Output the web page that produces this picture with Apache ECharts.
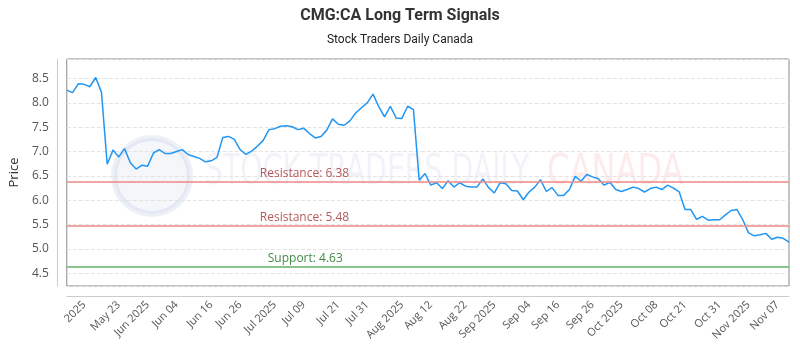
<!DOCTYPE html>
<html>
<head>
<meta charset="utf-8">
<script src="https://cdn.jsdelivr.net/npm/echarts@6.0.0/dist/echarts.min.js"></script>
<style>
  html, body { margin: 0; padding: 0; background: #fff; }
  #chart { width: 800px; height: 350px; }
</style>
</head>
<body>
<div id="chart"></div>
<script>
// daily closes (one per trading day)
const closes = [
  8.26, 8.21, 8.39, 8.38, 8.33, 8.52, 8.22, 6.74, 7.03, 6.89,
  7.06, 6.77, 6.64, 6.72, 6.70, 6.97, 7.04, 6.96, 6.96, 7.00,
  7.04, 6.94, 6.90, 6.86, 6.79, 6.81, 6.88, 7.29, 7.31, 7.25,
  7.04, 6.94, 7.01, 7.11, 7.23, 7.45, 7.47, 7.52, 7.53, 7.51,
  7.45, 7.48, 7.37, 7.28, 7.31, 7.44, 7.67, 7.56, 7.54, 7.63,
  7.79, 7.90, 8.00, 8.18, 7.92, 7.71, 7.93, 7.69, 7.68, 7.93,
  7.86, 6.41, 6.55, 6.31, 6.36, 6.24, 6.40, 6.27, 6.36, 6.29,
  6.27, 6.27, 6.44, 6.26, 6.15, 6.36, 6.34, 6.20, 6.19, 6.01,
  6.17, 6.27, 6.42, 6.18, 6.26, 6.10, 6.10, 6.22, 6.49, 6.39,
  6.53, 6.48, 6.44, 6.31, 6.37, 6.22, 6.18, 6.22, 6.27, 6.24,
  6.17, 6.24, 6.27, 6.22, 6.31, 6.25, 6.17, 5.81, 5.81, 5.61,
  5.67, 5.59, 5.60, 5.60, 5.70, 5.79, 5.81, 5.60, 5.33, 5.27,
  5.29, 5.32, 5.20, 5.24, 5.22, 5.14
];

// x-axis tick labels and the day index each one sits on
const tickLabels = [
  '2025', 'May 23', 'Jun 2025', 'Jun 04', 'Jun 16', 'Jun 26', 'Jul 2025', 'Jul 09',
  'Jul 21', 'Jul 31', 'Aug 2025', 'Aug 12', 'Aug 22', 'Sep 2025', 'Sep 04', 'Sep 16',
  'Sep 26', 'Oct 2025', 'Oct 08', 'Oct 21', 'Oct 31', 'Nov 2025', 'Nov 07'
];
const tickIndex = [
  3, 9, 14, 19, 25, 30, 36, 41, 47, 52, 58, 63, 69, 74, 80, 85, 91, 96, 102, 107, 113, 118, 123
];

const resistanceLevels = [6.38, 5.48];
const supportLevels = [4.63];

const categories = closes.map((_, i) => String(i));

const chart = echarts.init(document.getElementById('chart'));

const levelLines = [];
resistanceLevels.forEach(v => {
  levelLines.push({
    yAxis: v,
    lineStyle: { color: '#ef8f8f', width: 2, type: 'solid', opacity: 0.8 },
    label: {
      formatter: 'Resistance: ' + v.toFixed(2),
      color: '#a32f2f',
      distance: [193, 2]
    }
  });
});
supportLevels.forEach(v => {
  levelLines.push({
    yAxis: v,
    lineStyle: { color: '#7fbf7f', width: 2, type: 'solid', opacity: 0.9 },
    label: {
      formatter: 'Support: ' + v.toFixed(2),
      color: '#2e7d32',
      distance: [201, 2]
    }
  });
});

const wmFont = '42px "DejaVu Sans Condensed", sans-serif';

const option = {
  animation: false,
  backgroundColor: '#fff',
  title: {
    text: 'CMG:CA Long Term Signals',
    subtext: 'Stock Traders Daily Canada',
    left: 'center',
    top: 3,
    itemGap: 10,
    textStyle: { fontFamily: 'Roboto', fontSize: 16, fontWeight: 'bold', color: '#333' },
    subtextStyle: { fontFamily: 'Roboto', fontSize: 12, color: '#222' }
  },
  // faint watermark behind the plot
  graphic: [
    {
      type: 'circle',
      z: -1,
      shape: { cx: 152, cy: 176, r: 38 },
      style: { fill: 'rgba(150,170,210,0.10)', stroke: 'rgba(150,170,210,0.18)', lineWidth: 6 }
    },
    {
      type: 'text',
      z: -1,
      x: 205,
      y: 152,
      scaleX: 0.75,
      style: {
        text: 'STOCK TRADERS DAILY',
        font: wmFont,
        verticalAlign: 'top',
        fill: 'rgba(140,160,200,0.12)'
      }
    },
    {
      type: 'text',
      z: -1,
      x: 547,
      y: 152,
      scaleX: 0.85,
      style: {
        text: 'CANADA',
        font: wmFont,
        verticalAlign: 'top',
        fill: 'rgba(235,90,90,0.12)'
      }
    }
  ],
  grid: {
    left: 63,
    right: 11,
    top: 59,
    bottom: 64,
    show: true,
    borderColor: '#888',
    borderWidth: 1
  },
  xAxis: {
    type: 'category',
    data: categories,
    boundaryGap: false,
    offset: 10,
    axisLine: { lineStyle: { color: '#ccc' } },
    axisTick: { show: false },
    splitLine: { show: false },
    axisLabel: {
      rotate: 45,
      fontFamily: 'Open Sans',
      fontSize: 11,
      color: '#555',
      margin: 7,
      interval: (idx) => tickIndex.includes(idx),
      formatter: (val, idx) => tickLabels[tickIndex.indexOf(idx)] || ''
    }
  },
  yAxis: {
    type: 'value',
    min: 4.24,
    max: 8.9,
    splitNumber: 9,
    offset: 10,
    name: 'Price',
    nameLocation: 'middle',
    nameGap: 34,
    nameTextStyle: { fontFamily: 'Open Sans', fontSize: 13, color: '#333' },
    axisLine: { show: true, lineStyle: { color: '#ccc' } },
    axisTick: { show: false },
    axisLabel: {
      fontFamily: 'Open Sans',
      fontSize: 12,
      color: '#555',
      margin: 8,
      showMinLabel: false,
      showMaxLabel: false,
      formatter: (v) => v.toFixed(1)
    },
    splitLine: { lineStyle: { color: '#e3e3e3', type: 'dashed' } }
  },
  series: [
    {
      type: 'line',
      data: closes,
      showSymbol: false,
      lineStyle: { color: '#2196f3', width: 1.5 },
      itemStyle: { color: '#2196f3' },
      markLine: {
        silent: true,
        symbol: 'none',
        label: {
          position: 'insideStartTop',
          fontFamily: 'Open Sans',
          fontSize: 12
        },
        data: levelLines
      }
    }
  ]
};

chart.setOption(option);
</script>
</body>
</html>
